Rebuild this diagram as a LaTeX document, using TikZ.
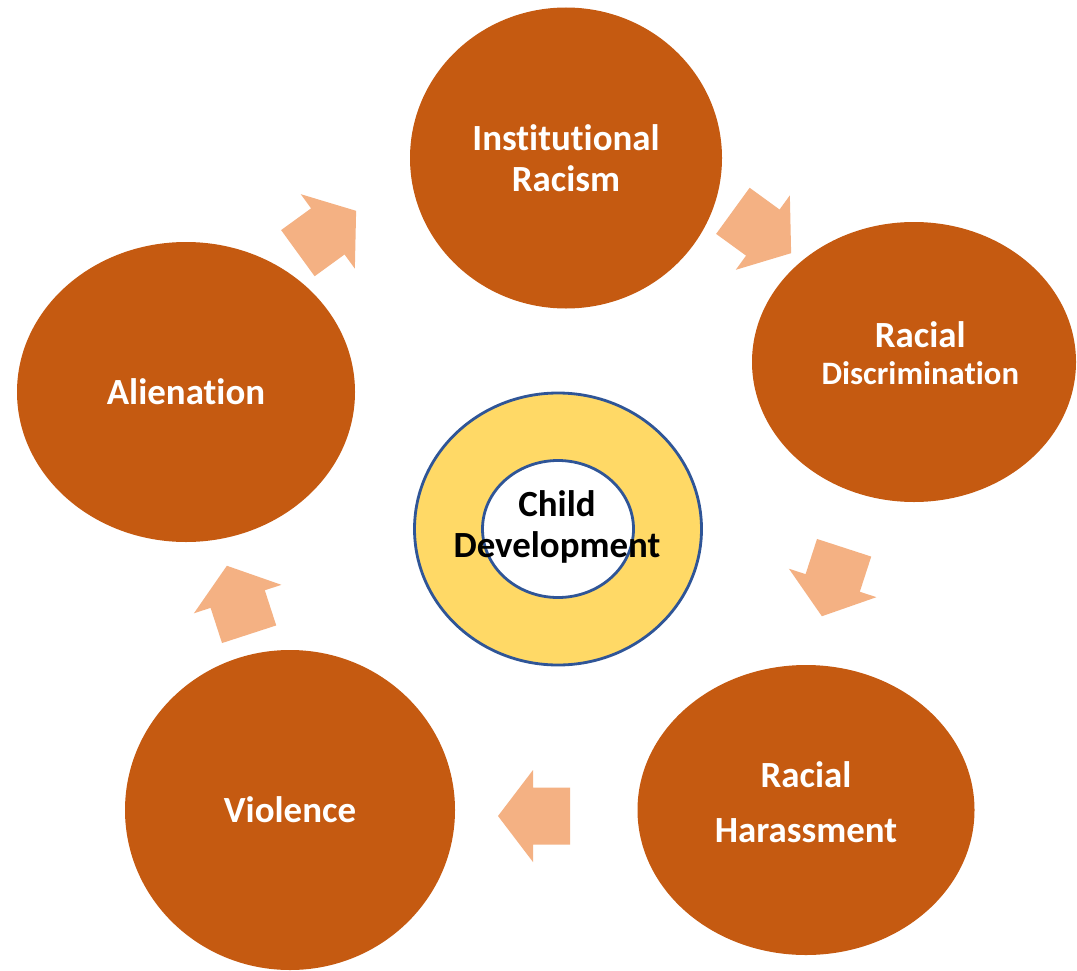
\documentclass[tikz,border=0pt]{standalone}
\usepackage{fontspec}
\setmainfont{Carlito}[Ligatures=NoCommon]
\usetikzlibrary{shapes.geometric}
\definecolor{rust}{HTML}{C55A11}
\definecolor{peach}{HTML}{F4B183}
\definecolor{gold}{HTML}{FFD966}
\definecolor{ringblue}{HTML}{2F5597}
\begin{document}
\begin{tikzpicture}[
		stage/.style = {ellipse, fill=rust, inner sep=0pt, text=white, align=center,
			font=\fontsize{21}{23}\selectfont\bfseries},
		ring/.style = {ellipse, draw=ringblue, line width=1.6pt, inner sep=0pt},
		cyclearrow/.pic = {\fill[peach] (-0.72,-0.57) -- (0.02,-0.57) -- (0.02,-0.92) -- (0.72,0)
			-- (0.02,0.92) -- (0.02,0.57) -- (-0.72,0.57) -- cycle;}
	]
			\path[fill=white] (0,0) rectangle (21.54,-19.36);
			
			\node[stage, minimum width=6.24cm, minimum height=6.02cm] (inst) at (11.32,-3.16) {Institutional\\Racism};
			\node[stage, minimum width=6.48cm, minimum height=5.60cm] (disc) at (18.28,-7.24) {\hspace*{0.25cm}Racial\\[-2pt]\hspace*{0.25cm}{\fontsize{18.6}{21}\selectfont Discrimination}\\[-20pt]\strut};
			\node[stage, minimum width=6.74cm, minimum height=5.80cm] (harass) at (16.12,-16.20) {Racial\\[8pt]Harassment\\[-21pt]\strut};
			\node[stage, minimum width=6.60cm, minimum height=6.40cm] (viol) at (5.80,-16.20) {Violence};
			\node[stage, minimum width=6.76cm, minimum height=6.00cm] (alien) at (3.72,-7.84) {Alienation};
			
			% arrows between the stages
			\pic[rotate=36] at (6.54,-4.64) {cyclearrow};
			\pic[rotate=-36] at (15.24,-4.64) {cyclearrow};
			\pic[rotate=-108] at (16.66,-11.64) {cyclearrow};
			\pic[rotate=180] at (10.68,-16.32) {cyclearrow};
			\pic[rotate=108] at (4.76,-12.00) {cyclearrow};
			
			\node[ring, fill=gold, minimum width=5.74cm, minimum height=5.44cm] (outer) at (11.16,-10.58) {};
			\node[ring, fill=white, minimum width=3.02cm, minimum height=2.74cm] (inner) at (outer.center) {};
			\node[align=center, font=\fontsize{21}{23}\selectfont\bfseries] (cd) at (11.14,-10.54) {Child\\Development};
			
		\end{tikzpicture}
\end{document}
